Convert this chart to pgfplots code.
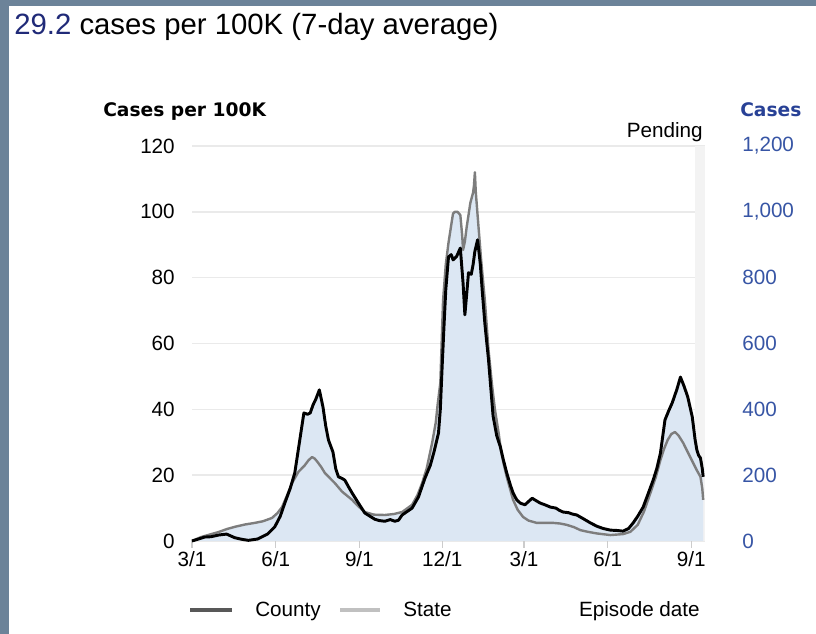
\documentclass[border=0pt]{standalone}
\usepackage{fontspec}
\setmainfont{Liberation Sans}
\newfontfamily\dvs{DejaVu Sans}
\usepackage{pgfplots}
\pgfplotsset{compat=1.18}
\definecolor{framec}{RGB}{108,131,153}
\definecolor{titleblue}{RGB}{32,42,120}
\definecolor{rblue}{RGB}{55,85,165}
\definecolor{hblue}{RGB}{40,65,150}
\definecolor{fillblue}{RGB}{220,231,243}
\definecolor{gridc}{RGB}{234,234,234}
\definecolor{pend}{RGB}{243,243,243}
\definecolor{stategray}{RGB}{125,125,125}
\definecolor{legcounty}{RGB}{88,88,88}
\definecolor{legstate}{RGB}{192,192,192}

\pgfplotstableread{
d v
0 0
7 0.6
14 1.2
21 1.3
29 1.8
38 2.1
47 1.0
55 0.5
62 0.2
72 0.6
83 2.1
91 4.3
97 7.5
102 11.5
108 16
113 20.7
119 31.6
123 38.9
127 38.5
130 38.9
133 41.3
136 43
140 45.9
144 40.7
147 35
150 30.7
155 27
158 22
161 19.5
165 19
168 18.5
172 16.5
176 14.6
183 11.5
190 8.5
201 6.6
206 6.2
212 6.0
218 6.5
223 6.0
227 6.3
231 7.9
242 10
249 13.4
256 19
262 23
266 27
271 32.8
273 40
275 52.9
277 65
279 76.3
282 86.3
285 87
287 85.4
291 86.5
295 89
298 78.4
300 68.7
302 75
304 81.5
307 81
309 83.9
311 88
314 91.5
317 84
319 76.3
322 66
326 55
331 38
335 32
339 28.6
342 25
346 20.7
350 17
353 14.6
357 12.5
361 11.5
366 11
370 12
374 13
378 12.3
383 11.5
388 11
394 10.3
400 10
404 9.3
408 8.8
414 8.6
418 8.2
423 7.9
430 6.8
438 5.5
445 4.5
452 3.8
460 3.3
467 3.2
474 3.0
480 3.8
485 5.5
490 7.5
496 10.3
501 14
507 18.5
511 22
515 26.7
520 36.8
524 39.5
528 42
533 46
537 49.8
541 47
545 43.8
550 37.7
553 31
555 27.7
557 26
559 25.2
561 22
562 19.5
}\county

\pgfplotstableread{
d v
0 0
10 1.2
20 2.0
29 2.7
38 3.6
47 4.3
58 5.0
69 5.5
78 6.0
88 7.0
94 8.5
99 10.3
104 13.5
110 17.6
117 21
124 23
128 24.5
132 25.5
135 25
138 24
142 22.5
146 20.7
152 19
157 17.6
165 15
176 12.5
183 10.5
190 8.8
200 8.0
212 7.9
222 8.2
231 8.8
236 9.8
242 11
248 14
253 17.6
258 22
264 29.8
268 36
270 41.3
273 48
276 73
279 84
282 90.6
285 96
287 99.5
289 100
292 100
295 99
297 93
298 88.4
300 91
302 95.4
304 99
306 102.7
309 105.8
310 108
311 112
312 106
315 95.4
318 85
322 73
326 58
330 47
333 40
337 33
340 27
343 23
346 19.5
350 15.5
353 12.5
358 9.5
364 7.3
370 6.2
379 5.5
390 5.5
397 5.5
405 5.3
412 4.9
420 4.2
427 3.3
435 2.8
445 2.3
460 1.8
474 2.1
482 2.8
490 4.9
497 9
504 14.6
510 19.5
515 24.6
519 28
523 30.7
527 32.5
531 33.1
535 32
540 29.8
545 27
551 23.7
555 21.5
559 19.5
561 16
562 12.5
}\state

\begin{document}
\begin{tikzpicture}
\fill[white] (0,0) rectangle (612pt,475.5pt);
\fill[framec] (0,0) rectangle (6.75pt,475.5pt);
\fill[framec] (0,471pt) rectangle (612pt,475.5pt);

% right axis (cases)
\begin{axis}[
  at={(144pt,69.75pt)}, anchor=south west, scale only axis,
  width=384.75pt, height=296.25pt,
  xmin=0, xmax=564, ymin=0, ymax=1200,
  axis x line=none, axis y line*=right,
  y axis line style={draw=none},
  ytick={0,200,...,1200}, ytick style={draw=none},
  yticklabel style={anchor=west, inner sep=0pt, xshift=27.75pt, text=rblue, font=\fontsize{15.5pt}{16pt}\selectfont},
  /pgf/number format/assume math mode=true,
  /pgf/number format/1000 sep={,},
]
\addplot[draw=none] coordinates {(0,0)};
\end{axis}

% main axis
\begin{axis}[
  at={(144pt,69.75pt)}, anchor=south west, scale only axis,
  width=384.75pt, height=296.25pt,
  xmin=0, xmax=564, ymin=0, ymax=120,
  axis x line*=bottom, axis y line*=left,
  axis line style={draw=none},
  ytick={0,20,...,120}, ytick style={draw=none},
  ymajorgrids, grid style={gridc, line width=1.2pt},
  xtick={0,92,184,275,365,457,549},
  xticklabels={3/1,6/1,9/1,12/1,3/1,6/1,9/1},
  xtick align=outside, major tick length=5pt,
  xtick style={draw=gray!40, line width=0.8pt},
  yticklabel style={anchor=east, inner sep=0pt, xshift=-12.75pt, font=\fontsize{15.5pt}{16pt}\selectfont},
  xticklabel style={anchor=north, inner sep=0pt, yshift=-2.5pt, font=\fontsize{15.5pt}{16pt}\selectfont},
  /pgf/number format/assume math mode=true,
  clip=false,
]
\fill[pend] (axis cs:553,0) rectangle (axis cs:564,120);
\addplot[draw=none, fill=fillblue] table[x=d,y=v] {\state} \closedcycle;
\addplot[draw=none, fill=fillblue] table[x=d,y=v] {\county} \closedcycle;
\addplot[stategray, line width=1.8pt, line join=round] table[x=d,y=v] {\state};
\addplot[black, line width=2.2pt, line join=round] table[x=d,y=v] {\county};
\end{axis}

\begin{scope}[x=0.75pt, y=-0.75pt, shift={(0pt,475.5pt)}]
\node[anchor=base west, inner sep=0pt, font=\fontsize{22pt}{24pt}\selectfont] at (14,35) {\textcolor{titleblue}{29.2} cases per 100K (7-day average)};
\node[anchor=base west, inner sep=0pt, font=\dvs\bfseries\fontsize{14pt}{15pt}\selectfont] at (103,117) {Cases per 100K};
\node[anchor=base west, inner sep=0pt, text=hblue, font=\dvs\bfseries\fontsize{14pt}{15pt}\selectfont] at (740,117) {Cases};
\node[anchor=base east, inner sep=0pt, font=\fontsize{15.5pt}{16pt}\selectfont] at (703,138) {Pending};
\draw[line width=3pt, legcounty] (190,610) -- (232,610);
\node[anchor=base west, inner sep=0pt, font=\fontsize{15.5pt}{16pt}\selectfont] at (255,617) {County};
\draw[line width=3pt, legstate] (340,610) -- (380,610);
\node[anchor=base west, inner sep=0pt, font=\fontsize{15.5pt}{16pt}\selectfont] at (403,617) {State};
\node[anchor=base east, inner sep=0pt, font=\fontsize{15.5pt}{16pt}\selectfont] at (700,617) {Episode date};
\end{scope}
\end{tikzpicture}
\end{document}
